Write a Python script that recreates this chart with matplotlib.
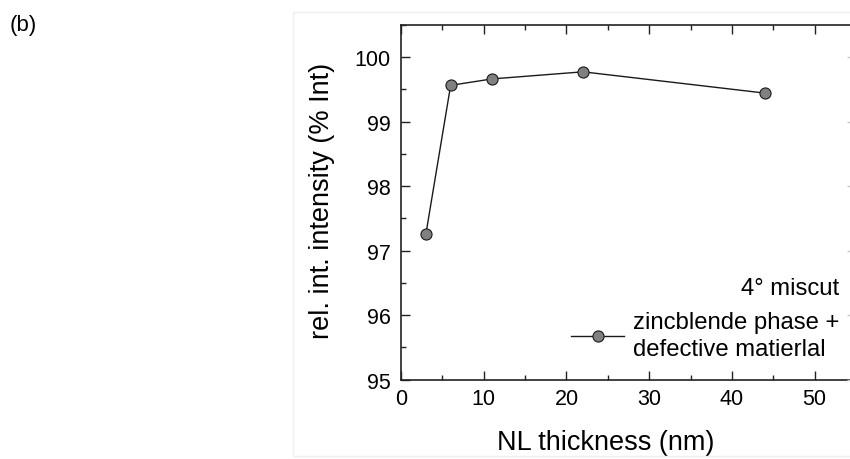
import matplotlib
matplotlib.use("Agg")
import matplotlib.pyplot as plt
from matplotlib.patches import Rectangle
from matplotlib.ticker import MultipleLocator

# data
nl_thickness = [3, 6, 11, 22, 44]
rel_intensity = [97.25, 99.56, 99.66, 99.77, 99.44]
series_label = "zincblende phase +\ndefective matierlal"
legend_title = "4° miscut"
x_label = "NL thickness (nm)"
y_label = "rel. int. intensity (% Int)"
panel_label = "(b)"

plt.rcParams['font.family'] = ['Liberation Sans', 'DejaVu Sans']

W, H = 850, 460
fig = plt.figure(figsize=(W / 100, H / 100), dpi=100)

def px(x0, y0, x1, y1):
    return [x0 / W, 1 - y1 / H, (x1 - x0) / W, (y1 - y0) / H]

# faint panel frame
fig.add_artist(Rectangle((293 / W, 1 - 457 / H), (870 - 293) / W, (457 - 13) / H,
                         transform=fig.transFigure, fill=False,
                         edgecolor='#efefef', lw=1.0))

ax = fig.add_axes(px(401, 25.7, 856, 380.7))
ax.set_xlim(0, 55)
ax.set_ylim(95, 100.5)

ax.plot(nl_thickness, rel_intensity, color='#1a1a1a', lw=1.0, marker='o',
        markersize=8, markerfacecolor='#808080', markeredgecolor='#1a1a1a',
        markeredgewidth=0.8, label=series_label)

for s in ['left', 'bottom', 'top']:
    ax.spines[s].set_linewidth(1.2)
    ax.spines[s].set_color('#222222')
ax.spines['right'].set_visible(False)

ax.xaxis.set_major_locator(MultipleLocator(10))
ax.xaxis.set_minor_locator(MultipleLocator(5))
ax.yaxis.set_major_locator(MultipleLocator(1))
ax.yaxis.set_minor_locator(MultipleLocator(0.5))
ax.tick_params(which='both', direction='in', top=True, right=False,
               width=1.0, color='#222222', labelsize=15.5)
ax.tick_params(which='major', length=6.5)
ax.tick_params(which='minor', length=3.6)
ax.tick_params(axis='x', pad=6)
ax.tick_params(axis='y', pad=7.5)

# faint right-side ticks (faded neighbouring frame)
axr = ax.twinx()
axr.set_ylim(95, 100.5)
axr.yaxis.set_major_locator(MultipleLocator(1))
axr.yaxis.set_minor_locator(MultipleLocator(0.5))
axr.tick_params(which='both', direction='in', right=True, labelright=False,
                width=1.0, color='#c8c8c8')
axr.tick_params(which='major', length=6.5)
axr.tick_params(which='minor', length=3.6)
for s in axr.spines.values():
    s.set_visible(False)

ax.set_xlabel(x_label, fontsize=19.5)
ax.set_ylabel(y_label, fontsize=19.5)
ax.xaxis.set_label_coords((606 - 401) / 455, -(443 - 380.7) / 355, transform=ax.transAxes)
ax.xaxis.label.set_va('center')
ax.yaxis.set_label_coords(-(401 - 322) / 455, 1 - (201 - 25.7) / 355, transform=ax.transAxes)
ax.yaxis.label.set_va('center')

leg = ax.legend(loc='lower right', bbox_to_anchor=(839 / W, 1 - 361 / H),
                bbox_transform=fig.transFigure, frameon=False,
                title=legend_title, title_fontsize=17.2, fontsize=17.2,
                alignment='right', borderpad=0, borderaxespad=0,
                handlelength=2.2, handletextpad=0.36)
for t in leg.get_texts():
    t.set_linespacing(1.3)

fig.text(10 / W, 1 - 26 / H, panel_label, fontsize=16, ha='left', va='center')

fig.savefig('out.png', dpi=100)
